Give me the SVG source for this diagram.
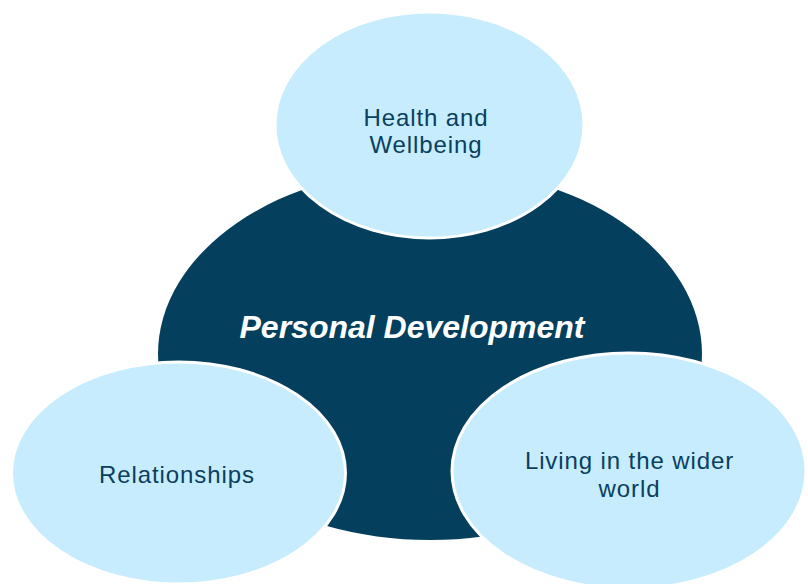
<svg xmlns="http://www.w3.org/2000/svg" width="808" height="584" viewBox="0 0 808 584">
<style>
.sat{fill:#c6ecfd;stroke:#ffffff;stroke-width:3}
.lbl{font-family:"Liberation Sans",Arial,sans-serif;font-size:24px;fill:#0a3f5d;text-anchor:middle;letter-spacing:0.9px}
.core{font-family:"Liberation Sans",Arial,sans-serif;font-size:32px;font-style:italic;font-weight:bold;fill:#ffffff;text-anchor:middle}
</style>
<rect width="808" height="584" fill="#ffffff"/>
<g id="connectors"></g>
<g id="core">
<ellipse cx="430" cy="354" rx="272" ry="186" fill="#053f5e"/>
<text class="core" x="412" y="338">Personal Development</text>
</g>
<g id="health">
<ellipse class="sat" cx="429.5" cy="125" rx="154.5" ry="113"/>
<text class="lbl" x="426" y="126">Health and</text>
<text class="lbl" x="426" y="153">Wellbeing</text>
</g>
<g id="relationships">
<ellipse class="sat" cx="178.5" cy="473" rx="167" ry="111"/>
<text class="lbl" x="177" y="483">Relationships</text>
</g>
<g id="wider">
<ellipse class="sat" cx="629" cy="471" rx="177" ry="118"/>
<text class="lbl" x="629.5" y="469">Living in the wider</text>
<text class="lbl" x="629.5" y="497">world</text>
</g>
</svg>
